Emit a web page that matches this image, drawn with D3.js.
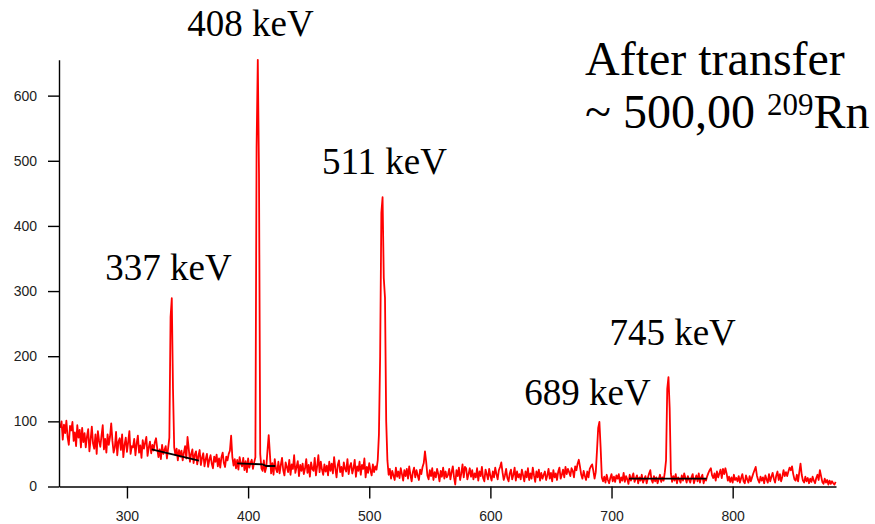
<!DOCTYPE html>
<html>
<head>
<meta charset="utf-8">
<script src="https://cdn.jsdelivr.net/npm/d3@7"></script>
<style>
  html, body { margin: 0; padding: 0; background: #fff; }
  svg { display: block; }
  .tick text { font-family: "Liberation Sans", Arial, sans-serif; font-size: 14px; fill: #222; }
  .label { font-family: "Liberation Serif", "Times New Roman", serif; fill: #000; }
</style>
</head>
<body>
<svg id="chart" width="875" height="524"></svg>
<script>
// Gamma spectrum: counts per 1 keV channel, first channel at 245 keV
const startKeV = 245;
const counts = [
  90, 100, 72, 95, 82, 101, 76, 64, 93, 86, 99, 70, 83, 62, 94, 75, 87, 60, 90, 68,
  82, 60, 77, 88, 54, 72, 92, 66, 58, 80, 50, 85, 70, 61, 78, 94, 57, 73, 52, 80,
  64, 76, 97, 70, 52, 60, 84, 48, 69, 74, 56, 80, 45, 64, 75, 53, 68, 85, 50, 62,
  60, 73, 48, 66, 78, 52, 63, 44, 71, 58, 67, 76, 47, 60, 69, 51, 64, 55, 68, 74,
  58, 45, 57, 42, 64, 50, 56, 62, 43, 59, 75, 260, 289, 150, 60, 48, 58, 40, 56, 46,
  55, 40, 52, 62, 43, 76, 58, 38, 50, 57, 36, 49, 54, 34, 47, 56, 33, 44, 51, 31,
  42, 50, 30, 41, 48, 35, 28, 46, 38, 49, 31, 43, 29, 45, 52, 36, 30, 46, 40, 50,
  55, 78, 45, 32, 42, 28, 41, 26, 45, 35, 31, 44, 25, 39, 22, 43, 29, 36, 41, 27,
  37, 45, 520, 655, 480, 50, 28, 24, 40, 22, 30, 55, 79, 50, 20, 36, 18, 42, 27, 22,
  38, 20, 33, 44, 25, 17, 37, 30, 22, 41, 18, 34, 27, 48, 21, 30, 39, 16, 33, 24,
  35, 19, 28, 42, 21, 33, 15, 37, 27, 24, 44, 17, 31, 48, 22, 38, 26, 18, 34, 23,
  32, 17, 38, 24, 35, 20, 45, 28, 14, 33, 40, 22, 30, 16, 37, 27, 23, 42, 19, 31,
  36, 20, 28, 41, 15, 31, 24, 38, 18, 33, 27, 43, 14, 30, 21, 36, 25, 17, 34, 22,
  31, 26, 40, 80, 200, 420, 444, 320, 290, 100, 40, 18, 27, 12, 24, 17, 10, 29, 15, 23,
  13, 28, 19, 9, 25, 16, 27, 12, 31, 18, 8, 22, 29, 14, 25, 17, 10, 26, 19, 30,
  36, 54, 38, 17, 11, 25, 16, 28, 10, 22, 14, 27, 19, 8, 24, 15, 29, 12, 23, 14,
  18, 27, 11, 22, 31, 14, 3, 25, 16, 29, 10, 20, 34, 14, 30, 28, 11, 19, 28, 15,
  25, 11, 20, 14, 28, 9, 23, 16, 30, 13, 8, 26, 19, 11, 27, 16, 9, 23, 14, 29,
  19, 11, 25, 30, 37, 22, 10, 17, 27, 13, 8, 20, 26, 11, 18, 29, 9, 23, 14, 19,
  11, 26, 17, 8, 23, 14, 28, 10, 20, 12, 29, 17, 7, 23, 14, 26, 9, 21, 12, 18,
  23, 10, 17, 27, 12, 21, 8, 25, 14, 20, 10, 23, 29, 12, 18, 26, 14, 30, 19, 27,
  22, 16, 28, 24, 14, 31, 25, 35, 41, 30, 18, 12, 24, 16, 10, 23, 14, 27, 31, 34,
  24, 12, 22, 55, 90, 99, 60, 14, 8, 15, 6, 18, 10, 5, 13, 19, 8, 15, 7, 17,
  12, 19, 6, 14, 9, 21, 7, 16, 11, 4, 18, 9, 14, 20, 7, 12, 17, 5, 14, 9,
  18, 6, 11, 16, 5, 13, 20, 25, 10, 6, 16, 8, 14, 5, 11, 18, 7, 14, 9, 22,
  40, 150, 168, 120, 20, 7, 16, 9, 19, 5, 14, 11, 6, 17, 9, 20, 13, 6, 16, 10,
  6, 14, 19, 5, 11, 17, 8, 20, 6, 14, 18, 5, 12, 9, 16, 21, 25, 28, 17, 13,
  20, 9, 23, 14, 20, 26, 13, 27, 19, 28, 20, 9, 15, 7, 14, 6, 18, 10, 13, 8,
  16, 6, 13, 19, 8, 5, 17, 11, 6, 16, 8, 14, 20, 25, 30, 17, 10, 6, 15, 9,
  14, 5, 17, 11, 6, 19, 8, 15, 21, 12, 6, 17, 23, 10, 19, 8, 15, 25, 16, 22,
  16, 23, 29, 25, 31, 19, 11, 9, 18, 8, 22, 35, 18, 9, 6, 15, 8, 13, 5, 12,
  7, 15, 9, 5, 13, 18, 10, 25, 16, 7, 4, 12, 6, 10, 3, 9, 4, 8, 5, 3, 7
];

// Background estimates under the peaks: [keV, counts] vertices
const backgroundFits = [
  [[320.4, 57], [359.4, 39.6]],
  [[391, 35.6], [412, 34], [415, 31.5], [422.4, 31.5]],
  [[714.4, 12], [778.6, 12]]
];

// Peak annotations, anchored in data units (keV, counts)
const peakLabels = ["408 keV", "511 keV", "337 keV", "745 keV", "689 keV"];
const peakLabelKeV = [402, 512.6, 334.3, 750.4, 680.2];
const peakLabelCounts = [692, 480, 317, 217, 125];

const xTicks = [300, 400, 500, 600, 700, 800];
const yTicks = [0, 100, 200, 300, 400, 500, 600];

const svg = d3.select("#chart");

const x = d3.scaleLinear().domain([243.9, 885.3]).range([59, 836]);
const y = d3.scaleLinear().domain([0, 655]).range([486.5, 59.8]);

const spectrum = counts.map((c, i) => [startKeV + i, c]);

const line = d3.line().x(d => x(d[0])).y(d => y(d[1]));

svg.append("path")
  .datum(spectrum)
  .attr("fill", "none")
  .attr("stroke", "#ff0000")
  .attr("stroke-width", 1.8)
  .attr("stroke-linejoin", "round")
  .attr("d", line);

svg.selectAll(".bg")
  .data(backgroundFits)
  .enter().append("path")
  .attr("class", "bg")
  .attr("fill", "none")
  .attr("stroke", "#000")
  .attr("stroke-width", 1.8)
  .attr("d", line);

// Axes
const xAxis = svg.append("g")
  .attr("transform", `translate(0,${y(0)})`)
  .call(d3.axisBottom(x).tickValues(xTicks).tickSize(12).tickPadding(8).tickSizeOuter(0));
const yAxis = svg.append("g")
  .attr("transform", `translate(${x(243.9)},0)`)
  .call(d3.axisLeft(y).tickValues(yTicks).tickSize(11).tickPadding(11).tickSizeOuter(0));

[xAxis, yAxis].forEach(g => {
  g.select(".domain").attr("stroke", "#000").attr("stroke-width", 1.4);
  g.selectAll(".tick line").attr("stroke", "#000").attr("stroke-width", 1.4);
});
xAxis.selectAll(".tick text").attr("dy", "1.05em");

// Peak energy labels
svg.selectAll(".peak")
  .data(peakLabels)
  .enter().append("text")
  .attr("class", "label peak")
  .attr("x", (d, i) => x(peakLabelKeV[i]))
  .attr("y", (d, i) => y(peakLabelCounts[i]))
  .attr("text-anchor", "middle")
  .attr("font-size", 37)
  .text(d => d);

// Title block
svg.append("text")
  .attr("class", "label")
  .attr("font-size", 48)
  .attr("x", 585).attr("y", 75)
  .text("After transfer");
const l2 = svg.append("text")
  .attr("class", "label")
  .attr("font-size", 48)
  .attr("x", 585).attr("y", 128);
l2.append("tspan").text("~ 500,00 ");
l2.append("tspan").attr("font-size", 31).attr("dy", -13).text("209");
l2.append("tspan").attr("dy", 13).text("Rn");
</script>
</body>
</html>
